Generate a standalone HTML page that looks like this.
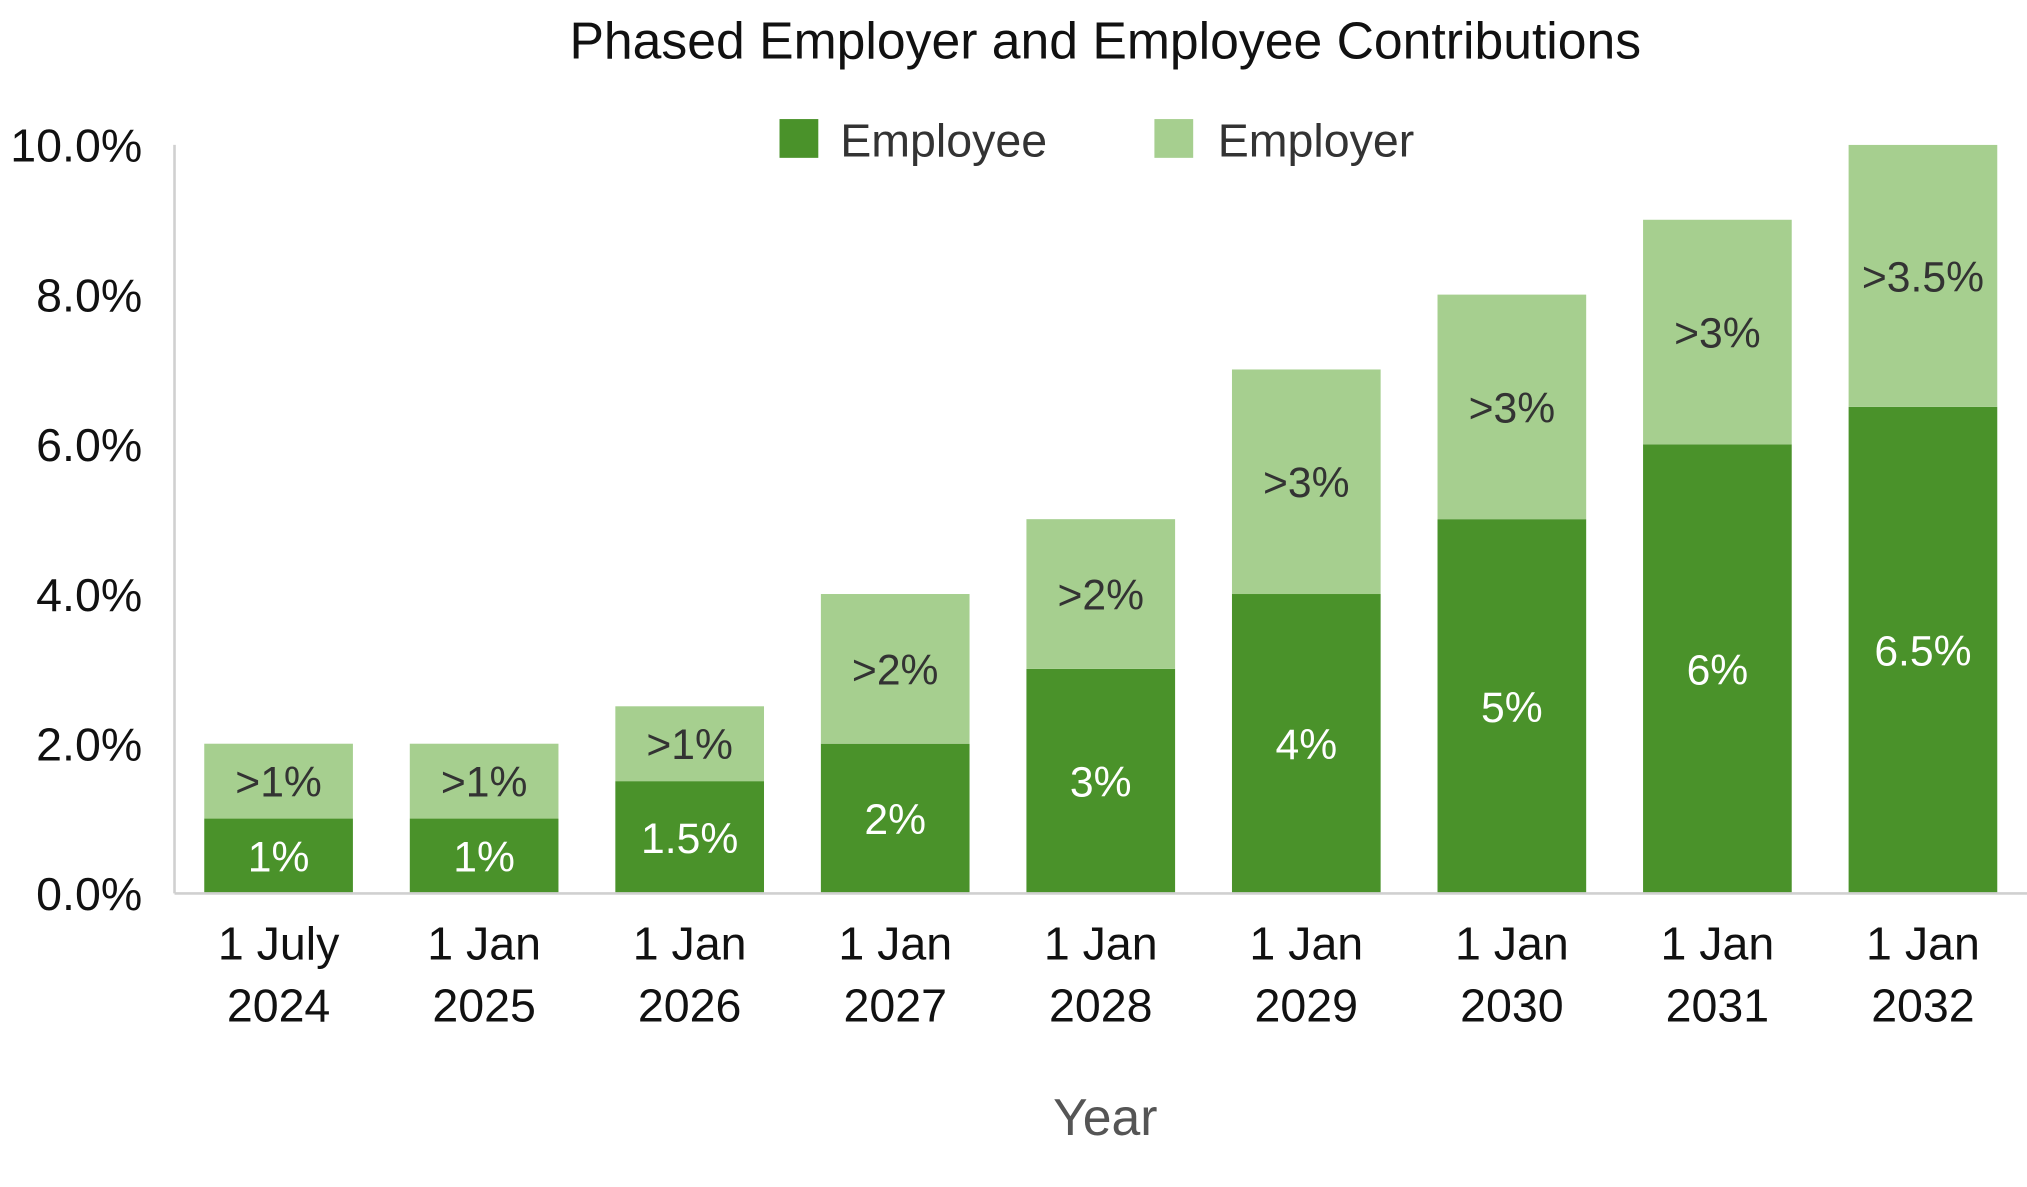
<!DOCTYPE html>
<html>
<head>
<meta charset="utf-8">
<style>
html,body{margin:0;padding:0;background:#fff;}
svg{display:block;font-family:"Liberation Sans",sans-serif;}
</style>
</head>
<body>
<svg id="chart" width="2027" height="1187" viewBox="0 0 1568 918" xmlns="http://www.w3.org/2000/svg">
  <text x="855" y="45" font-size="40" text-anchor="middle" fill="#111">Phased Employer and Employee Contributions</text>
  <g>
    <rect x="603" y="92" width="30" height="30" fill="#4a922a"/>
    <text x="650" y="121" font-size="36" fill="#333">Employee</text>
    <rect x="893" y="92" width="30" height="30" fill="#a6cf8f"/>
    <text x="942" y="121" font-size="36" fill="#333">Employer</text>
  </g>
  <line x1="135" y1="112" x2="135" y2="691" stroke="#d0d0d0" stroke-width="2"/>
  <g id="yticks"></g>
  <g id="bars"></g>
  <line x1="135" y1="691" x2="1568" y2="691" stroke="#d0d0d0" stroke-width="2"/>
  <g id="xlabels"></g>
  <text x="855" y="878" font-size="40" text-anchor="middle" fill="#555">Year</text>
</svg>
<script>
const categoriesLine1 = ["1 July","1 Jan","1 Jan","1 Jan","1 Jan","1 Jan","1 Jan","1 Jan","1 Jan"];
const categoriesLine2 = ["2024","2025","2026","2027","2028","2029","2030","2031","2032"];
const employeeValues = [1,1,1.5,2,3,4,5,6,6.5];
const employerValues = [1,1,1,2,2,3,3,3,3.5];
const employeeLabels = ["1%","1%","1.5%","2%","3%","4%","5%","6%","6.5%"];
const employerLabels = [">1%",">1%",">1%",">2%",">2%",">3%",">3%",">3%",">3.5%"];
const yTickValues = [0,2,4,6,8,10];
const yTickLabels = ["0.0%","2.0%","4.0%","6.0%","8.0%","10.0%"];

const NS = "http://www.w3.org/2000/svg";
const y0 = 691, yTop = 112, yMax = 10;
function yScale(v){ return y0 - (v / yMax) * (y0 - yTop); }
const xStart = 158, pitch = 159, barW = 115;
function xScale(i){ return xStart + i * pitch; }
function mk(tag, attrs, parent, txt){
  const e = document.createElementNS(NS, tag);
  for (const k in attrs) e.setAttribute(k, attrs[k]);
  if (txt !== undefined) e.textContent = txt;
  parent.appendChild(e);
  return e;
}
const yt = document.getElementById("yticks");
yTickValues.forEach((v, i) => {
  const t = mk("text", {x:110, y:yScale(v)+13, "font-size":36, "text-anchor":"end", fill:"#111"}, yt, yTickLabels[i]);
  
  
});
const bars = document.getElementById("bars");
const xl = document.getElementById("xlabels");
employeeValues.forEach((ev, i) => {
  const x = xScale(i), cx = x + barW/2;
  const er = employerValues[i];
  const yE = yScale(ev), yT = yScale(ev + er);
  const b1 = mk("rect", {x:x, y:yE, width:barW, height:y0 - yE, fill:"#4a922a"}, bars);
  
  
  const b2 = mk("rect", {x:x, y:yT, width:barW, height:yE - yT, fill:"#a6cf8f"}, bars);
  
  
  const l1 = mk("text", {x:cx, y:(yE + y0)/2 + 12, "font-size":33, "text-anchor":"middle", fill:"#fff"}, bars, employeeLabels[i]);
  
  
  const l2 = mk("text", {x:cx, y:(yT + yE)/2 + 12, "font-size":33, "text-anchor":"middle", fill:"#333"}, bars, employerLabels[i]);
  
  
  const c1 = mk("text", {x:cx, y:742, "font-size":36, "text-anchor":"middle", fill:"#111"}, xl, categoriesLine1[i]);
  
  
  const c2 = mk("text", {x:cx, y:790, "font-size":36, "text-anchor":"middle", fill:"#111"}, xl, categoriesLine2[i]);
  
  
});
</script>
</body>
</html>
